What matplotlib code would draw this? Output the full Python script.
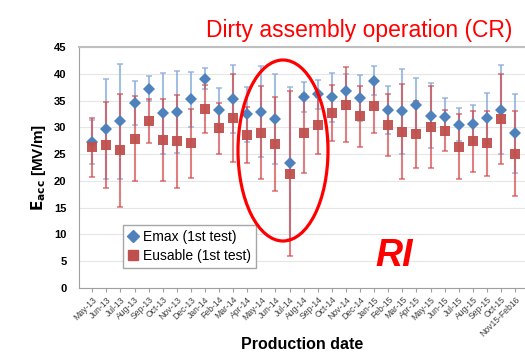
import matplotlib
matplotlib.use('Agg')
import matplotlib.pyplot as plt
from matplotlib.lines import Line2D
from matplotlib.patches import Ellipse
import numpy as np

months = ['May-13', 'Jun-13', 'Jul-13', 'Aug-13', 'Sep-13', 'Oct-13', 'Nov-13',
          'Dec-13', 'Jan-14', 'Feb-14', 'Mar-14', 'Apr-14', 'May-14', 'Jun-14',
          'Jul-14', 'Aug-14', 'Sep-14', 'Oct-14', 'Nov-14', 'Dec-14', 'Jan-15',
          'Feb-15', 'Mar-15', 'Apr-15', 'May-15', 'Jun-15', 'Jul-15', 'Aug-15',
          'Sep-15', 'Oct-15', 'Nov15-Feb16']

emax = [27.3, 29.7, 31.1, 34.6, 37.2, 32.6, 32.9, 35.2, 39.1, 33.2, 35.3,
        32.4, 32.9, 31.5, 23.3, 35.6, 36.2, 35.6, 36.7, 35.5, 38.7, 33.2,
        33.0, 34.2, 32.2, 32.0, 30.5, 30.6, 31.8, 33.3, 28.9]
emax_err = [4.1, 9.3, 10.8, 4.1, 2.3, 7.5, 7.7, 5.1, 2.0, 4.1, 6.3,
            5.1, 8.5, 8.4, 14.2, 2.8, 2.7, 4.6, 3.2, 4.3, 2.7, 4.5,
            7.9, 5.1, 6.1, 3.4, 3.1, 3.6, 4.7, 8.3, 7.4]

eusable = [26.3, 26.7, 25.7, 27.9, 31.1, 27.6, 27.4, 27.0, 33.4, 29.8, 31.7,
           28.6, 29.0, 26.9, 21.3, 28.9, 30.4, 32.7, 34.2, 32.1, 33.9, 30.4,
           29.2, 28.7, 30.1, 29.4, 26.4, 27.4, 27.0, 31.6, 25.1]
eusable_err = [5.5, 8.1, 10.6, 8.0, 4.1, 7.6, 8.7, 6.5, 4.5, 4.8, 8.2,
               5.2, 8.7, 8.7, 15.4, 7.4, 5.3, 5.2, 7.0, 5.7, 5.0, 5.8,
               8.9, 6.2, 7.6, 3.8, 6.0, 5.7, 6.0, 8.4, 8.0]

blue = '#4F81BD'
red = '#C0504D'

plt.rcParams['font.family'] = ['Liberation Sans', 'DejaVu Sans']

fig = plt.figure(figsize=(5.25, 3.61), dpi=100)
ax = fig.add_axes([79 / 525, 73 / 361, 446 / 525, 241 / 361])

x = np.arange(len(months))

ax.errorbar(x, emax, yerr=emax_err, fmt='none', ecolor='#8EAEDB',
            elinewidth=1.5, capsize=2.5, capthick=1.2, alpha=0.8, zorder=2)
ax.errorbar(x, eusable, yerr=eusable_err, fmt='none', ecolor='#D2494C',
            elinewidth=1.5, capsize=2.5, capthick=1.2, alpha=0.7, zorder=3)
ax.plot(x, emax, 'D', color=blue, markersize=6, markeredgewidth=0, zorder=4)
ax.plot(x, eusable, 's', color=red, markersize=7.5, markeredgewidth=0,
        alpha=0.95, zorder=5)

ax.set_xlim(-0.94, 30.7)
ax.set_ylim(0, 45)
ax.set_yticks(range(0, 46, 5))
ax.set_xticks(x)
ax.set_xticklabels(months, rotation=45, ha='right', rotation_mode='anchor',
                   fontsize=6.2, color='#404040')
ax.tick_params(axis='x', length=3, color='#a0a0a0', pad=2)
ax.tick_params(axis='y', length=0, pad=9, labelsize=8)
for lab in ax.get_yticklabels():
    lab.set_fontweight('bold')

ax.grid(True, axis='y', color='#e6e6e6', linewidth=0.8)
ax.set_axisbelow(True)
ax.spines['right'].set_visible(False)
ax.spines['left'].set_color('#a0a0a0')
ax.spines['bottom'].set_color('#a0a0a0')
ax.spines['top'].set_color('#bfbfbf')
ax.spines['top'].set_linewidth(1.5)

ax.set_xlabel('Production date', fontsize=11.5, fontweight='bold')
ax.xaxis.set_label_coords(0.5, -0.2365)
ax.xaxis.label.set_va('center')
ax.set_ylabel(r'$\mathbf{E_{acc}}$ [MV/m]', fontsize=11, fontweight='bold',
              labelpad=4)

handles = [Line2D([], [], marker='D', color=blue, linestyle='none', markersize=6),
           Line2D([], [], marker='s', color=red, linestyle='none', markersize=7.5)]
leg = ax.legend(handles, ['Emax (1st test)', 'Eusable (1st test)'],
                loc='lower left', bbox_to_anchor=(0.083, 0.054), fontsize=10,
                fancybox=False, framealpha=1, edgecolor='#a6a6a6',
                handlelength=0.8, handletextpad=0.3, borderpad=0.35,
                labelspacing=0.35)
leg.get_frame().set_linewidth(1.0)

fig.text(359 / 525, 1 - 37 / 361, 'Dirty assembly operation (CR)',
         color='#FF0000', fontsize=16.5, ha='center', va='baseline')
fig.text(394 / 525, 1 - 256 / 361, 'RI', color='#FF0000', fontsize=27,
         fontweight='bold', fontstyle='italic', ha='center', va='center')

fig.patches.append(Ellipse((283 / 525, 1 - 150.5 / 361), 90 / 525, 181 / 361,
                           transform=fig.transFigure, fill=False,
                           edgecolor='#FF0000', linewidth=2.3, zorder=10))

fig.savefig('out.png', dpi=100)
